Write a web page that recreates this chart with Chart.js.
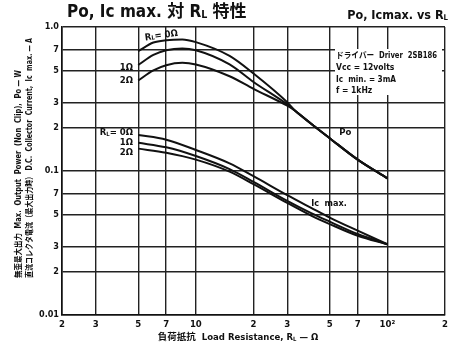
<!DOCTYPE html>
<html>
<head>
    <title>Po, Ic max. vs RL</title>
    <script src="https://cdn.jsdelivr.net/npm/chart.js@4.4.0/dist/chart.umd.min.js"></script>
    <style>
        body { margin: 0; background: #fff; }
        #wrap { width: 456px; height: 351px; position: relative; }
    </style>
</head>
<body>
<div id="wrap"><canvas id="mycanvas" width="456" height="351"></canvas></div>
<script>
    // load resistance (ohm) and read-off values
    var poR = [5, 6, 7, 8.5, 10, 15, 20, 30];
    var po0 = [0.68, 0.78, 0.81, 0.82, 0.785, 0.63, 0.475, 0.30];
    var po1 = [0.545, 0.64, 0.69, 0.71, 0.69, 0.55, 0.415, 0.29];
    var po2 = [0.425, 0.5, 0.543, 0.564, 0.549, 0.455, 0.372, 0.284];
    // common Po tail after the curves merge
    var poTailR = [33, 40, 50, 70, 100];
    var poTail = [0.262, 0.213, 0.169, 0.12, 0.089];

    var icR = [5, 7, 10, 15, 20, 30, 40, 50, 70, 100];
    var ic0 = [0.178, 0.165, 0.14, 0.113, 0.092, 0.068, 0.0555, 0.0475, 0.0385, 0.031];
    var ic1 = [0.157, 0.146, 0.127, 0.103, 0.084, 0.062, 0.051, 0.0445, 0.0365, 0.031];
    var ic2 = [0.143, 0.134, 0.12, 0.099, 0.081, 0.060, 0.049, 0.0428, 0.0355, 0.031];

    var xTicks = [2, 3, 5, 7, 10, 20, 30, 50, 70, 100, 200];
    var xLabels = ["2", "3", "5", "7", "10", "2", "3", "5", "7", "10²", "2"];
    var yTicks = [0.01, 0.02, 0.03, 0.05, 0.07, 0.1, 0.2, 0.3, 0.5, 0.7, 1];
    var yLabels = ["0.01", "2", "3", "5", "7", "0.1", "2", "3", "5", "7", "1.0"];

    var FAM = '"DejaVu Sans Condensed", "Liberation Sans Narrow", "Noto Sans CJK JP", sans-serif';
    function font(size, weight) { return (weight || "bold") + " " + size + "px " + FAM; }

    function pts(xs, ys) {
        var out = [];
        for (var i = 0; i < xs.length; i++) out.push({ x: xs[i], y: ys[i] });
        return out;
    }

    function line(data) {
        return {
            data: data,
            borderColor: "#111",
            borderWidth: 2,
            pointRadius: 0,
            fill: false,
            cubicInterpolationMode: "monotone"
        };
    }

    // draw text runs; runs with sub:true are drawn smaller (the L of RL)
    function runs(ctx, x, y, parts, size, align) {
        var w = 0, i;
        for (i = 0; i < parts.length; i++) {
            ctx.font = font(parts[i].sub ? size * 0.62 : size);
            w += ctx.measureText(parts[i].t).width;
        }
        var cx = align === "right" ? x - w : (align === "center" ? x - w / 2 : x);
        ctx.textAlign = "left";
        for (i = 0; i < parts.length; i++) {
            ctx.font = font(parts[i].sub ? size * 0.62 : size);
            ctx.fillText(parts[i].t, cx, parts[i].sub ? y + size * 0.12 : y);
            cx += ctx.measureText(parts[i].t).width;
        }
    }

    var annot = {
        id: "annot",
        beforeDatasetsDraw: function (chart) {
            var ctx = chart.ctx;
            ctx.save();
            ctx.fillStyle = "#fff";
            ctx.fillRect(335, 49, 107, 46);
            ctx.restore();
        },
        afterDraw: function (chart) {
            var ctx = chart.ctx, xs = chart.scales.x, ys = chart.scales.y;
            ctx.save();
            ctx.fillStyle = "#111";
            ctx.textBaseline = "middle";

            // header
            runs(ctx, 67, 13, [{ t: "Po, Ic max. 対 R" }, { t: "L", sub: true }, { t: " 特性" }], 17, "left");
            runs(ctx, 448, 16, [{ t: "Po, Icmax. vs R" }, { t: "L", sub: true }], 12.5, "right");

            // curve labels
            ctx.save();
            ctx.translate(xs.getPixelForValue(6.6), ys.getPixelForValue(0.87));
            ctx.rotate(-0.14);
            runs(ctx, 0, 0, [{ t: "R" }, { t: "L", sub: true }, { t: "= 0Ω" }], 9.5, "center");
            ctx.restore();
            runs(ctx, 133, 68, [{ t: "1Ω" }], 9.5, "right");
            runs(ctx, 133, 81, [{ t: "2Ω" }], 9.5, "right");
            runs(ctx, 133, 133, [{ t: "R" }, { t: "L", sub: true }, { t: "= 0Ω" }], 9.5, "right");
            runs(ctx, 133, 143, [{ t: "1Ω" }], 9.5, "right");
            runs(ctx, 133, 153, [{ t: "2Ω" }], 9.5, "right");
            runs(ctx, xs.getPixelForValue(56), ys.getPixelForValue(0.185), [{ t: "Po" }], 9.5, "left");
            runs(ctx, xs.getPixelForValue(40), ys.getPixelForValue(0.059), [{ t: "Ic  max." }], 9, "left");

            // conditions
            ctx.font = font(8.5);
            ctx.textAlign = "left";
            ctx.fillText("ドライバー  Driver  2SB186", 336, 56, 101);
            ctx.fillText("Vcc = 12volts", 336, 68, 60);
            ctx.fillText("Ic  min. = 3mA", 336, 80, 60);
            ctx.fillText("f = 1kHz", 336, 91, 40);

            // x axis title
            runs(ctx, 238, 338, [{ t: "負荷抵抗  Load Resistance, R" }, { t: "L", sub: true }, { t: " — Ω" }], 9.5, "center");

            // y axis titles
            ctx.save();
            ctx.translate(19, 278);
            ctx.rotate(-Math.PI / 2);
            ctx.font = font(8.5);
            ctx.textAlign = "left";
            ctx.fillText("無歪最大出力  Max.  Output  Power  (Non  Clip),  Po — W", 0, 0, 208);
            ctx.restore();
            ctx.save();
            ctx.translate(30, 278);
            ctx.rotate(-Math.PI / 2);
            ctx.font = font(8.5);
            ctx.textAlign = "left";
            ctx.fillText("直流コレクタ電流（最大出力時） D.C.  Collector  Current,  Ic  max. — A", 0, 0, 240);
            ctx.restore();

            ctx.restore();
        }
    };

    var gridStyle = { color: "#222", lineWidth: 1.4, drawTicks: false };

    var ctx = document.getElementById("mycanvas");
    var chart = new Chart(ctx, {
        type: "line",
        data: {
            datasets: [
                line(pts(poR.concat(poTailR), po0.concat(poTail))),
                line(pts(poR.concat(poTailR), po1.concat(poTail))),
                line(pts(poR.concat(poTailR), po2.concat(poTail))),
                line(pts(icR, ic0)),
                line(pts(icR, ic1)),
                line(pts(icR, ic2))
            ]
        },
        options: {
            responsive: false,
            animation: false,
            layout: { padding: { left: 0, top: 27, right: 11, bottom: 0 } },
            plugins: { legend: { display: false }, tooltip: { enabled: false } },
            scales: {
                x: {
                    type: "logarithmic",
                    min: 2,
                    max: 200,
                    grid: gridStyle,
                    border: { color: "#111", width: 1.6 },
                    afterBuildTicks: function (s) { s.ticks = xTicks.map(function (v) { return { value: v }; }); },
                    afterFit: function (s) { s.height = 36; },
                    ticks: {
                        autoSkip: false,
                        maxRotation: 0,
                        padding: 4,
                        color: "#111",
                        font: { family: FAM, size: 9.5, weight: "bold" },
                        callback: function (v, i) { return xLabels[i]; }
                    }
                },
                y: {
                    type: "logarithmic",
                    min: 0.01,
                    max: 1,
                    grid: gridStyle,
                    border: { color: "#111", width: 1.6 },
                    afterBuildTicks: function (s) { s.ticks = yTicks.map(function (v) { return { value: v }; }); },
                    afterFit: function (s) { s.width = 62; },
                    ticks: {
                        autoSkip: false,
                        padding: 3,
                        color: "#111",
                        font: { family: FAM, size: 9, weight: "bold" },
                        callback: function (v, i) { return yLabels[i]; }
                    }
                }
            }
        },
        plugins: [annot]
    });
</script>
</body>
</html>
